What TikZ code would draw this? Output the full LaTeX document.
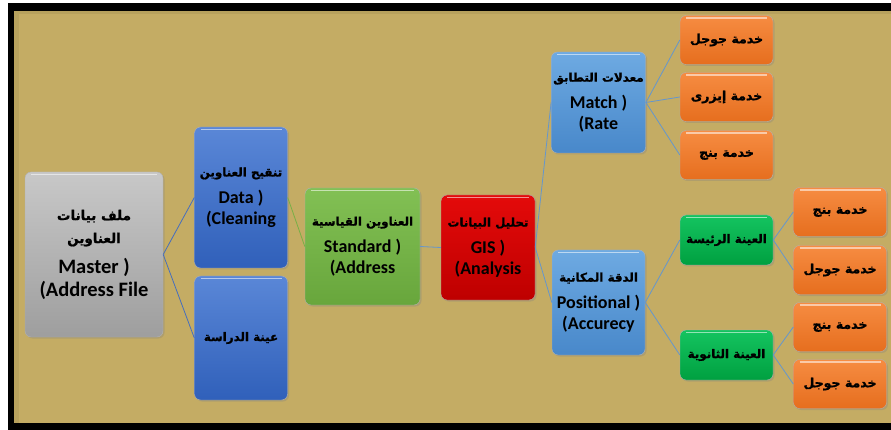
\documentclass[tikz,border=0pt]{standalone}
\usepackage{fontspec}
\setmainfont{Carlito}
\newfontfamily\arabicfont[Script=Arabic,Scale=0.66,BoldFeatures={FakeBold=1.2}]{DejaVu Sans}
\TeXXeTstate=1
\usetikzlibrary{shadows}
\definecolor{tanbg}{RGB}{196,172,100}
\definecolor{greytop}{RGB}{200,200,200}
\definecolor{greybot}{RGB}{158,158,158}
\definecolor{bluetop}{RGB}{90,135,215}
\definecolor{bluebot}{RGB}{48,96,186}
\definecolor{greentop}{RGB}{130,192,84}
\definecolor{greenbot}{RGB}{104,166,60}
\definecolor{redtop}{RGB}{228,10,10}
\definecolor{redbot}{RGB}{190,0,0}
\definecolor{skytop}{RGB}{110,170,226}
\definecolor{skybot}{RGB}{72,136,202}
\definecolor{orangetop}{RGB}{246,140,66}
\definecolor{orangebot}{RGB}{230,110,30}
\definecolor{mintop}{RGB}{20,196,96}
\definecolor{minbot}{RGB}{0,160,64}
\definecolor{linkblue}{RGB}{100,150,205}
\definecolor{linkdark}{RGB}{70,110,190}
\definecolor{linkgreen}{RGB}{120,175,70}
\newcommand{\artxt}[1]{{\arabicfont\bfseries\beginR #1\endR}}

\begin{document}
\begin{tikzpicture}[x=1pt,y=-1pt]
    \tikzstyle{every node}=[font={\bfseries}]
    \tikzstyle{box}=[rounded corners=6pt, align=center, inner sep=2pt,
        draw=white!70!black, line width=0.4pt,
        drop shadow={shadow xshift=1.5pt, shadow yshift=-1.5pt, opacity=0.3},
        path picture={\draw[white, opacity=0.55, line width=1.4pt]
            ([xshift=6pt,yshift=-2.5pt]path picture bounding box.north west) --
            ([xshift=-6pt,yshift=-2.5pt]path picture bounding box.north east);}]
    \tikzstyle{greybox}=[box, top color=greytop, bottom color=greybot,
        minimum width=138pt, minimum height=165pt, font={\bfseries\fontsize{20.5}{23}\selectfont}]
    \tikzstyle{bluebox}=[box, top color=bluetop, bottom color=bluebot,
        minimum width=93pt, font={\bfseries\fontsize{18}{21}\selectfont}]
    \tikzstyle{stdbox}=[box, top color=greentop, bottom color=greenbot,
        minimum width=115pt, minimum height=117pt, font={\bfseries\fontsize{18}{21}\selectfont}]
    \tikzstyle{gisbox}=[box, top color=redtop, bottom color=redbot,
        minimum width=94pt, minimum height=105pt, font={\bfseries\fontsize{18}{21}\selectfont}]
    \tikzstyle{skybox}=[box, top color=skytop, bottom color=skybot,
        minimum width=93pt, font={\bfseries\fontsize{18}{21}\selectfont}]
    \tikzstyle{servicebox}=[box, top color=orangetop, bottom color=orangebot,
        minimum width=93pt, minimum height=49pt, font={\bfseries\fontsize{19}{22}\selectfont}]
    \tikzstyle{samplebox}=[box, top color=mintop, bottom color=minbot,
        minimum width=93pt, minimum height=50pt, font={\bfseries\fontsize{18}{21}\selectfont}]
    \tikzstyle{link}=[linkblue, line width=0.8pt]

    \useasboundingbox (0,0) rectangle (891,430);
    \fill[white] (0,0) rectangle (891,430);
    \fill[black] (8,3.5) rectangle (891,430);
    \fill[tanbg] (14,11) rectangle (891,423);
    \fill[tanbg!88!black, opacity=0.5] (14,11) rectangle (891,14);
    \fill[tanbg!88!black, opacity=0.5] (14,14) rectangle (19,423);

    \node[greybox] (master) at (94,254.5) {\artxt{ملف بيانات}\\\artxt{العناوين}\\[7pt] Master )\\(Address File};
    \node[bluebox, minimum height=141pt] (clean) at (241,197.5) {\artxt{تنقيح العناوين}\\[6pt] Data )\\(Cleaning};
    \node[bluebox, minimum height=124pt] (sample) at (241,338) {\artxt{عينة الدراسة}};
    \node[stdbox] (standard) at (362.5,246.5) {\artxt{العناوين القياسية}\\[6pt] Standard )\\(Address};
    \node[gisbox] (gis) at (488,247.5) {\artxt{تحليل البيانات}\\[6pt] GIS )\\(Analysis};
    \node[skybox, minimum height=101pt] (match) at (598.5,102.5) {\artxt{معدلات التطابق}\\[6pt] Match )\\(Rate};
    \node[skybox, minimum height=105pt] (accuracy) at (598.5,302.5) {\artxt{الدقة المكانية}\\[6pt] Positional )\\(Accurecy};

    \node[servicebox] (google1) at (726.5,40) {\artxt{خدمة جوجل}};
    \node[servicebox] (esri) at (726.5,97) {\artxt{خدمة إيزرى}};
    \node[servicebox] (bing1) at (726.5,155) {\artxt{خدمة بنج}};

    \node[samplebox] (mainsample) at (726.5,240) {\artxt{العينة الرئيسة}};
    \node[samplebox] (subsample) at (726.5,355) {\artxt{العينة الثانوية}};

    \node[servicebox] (bing2) at (840,212) {\artxt{خدمة بنج}};
    \node[servicebox] (google2) at (840,270) {\artxt{خدمة جوجل}};
    \node[servicebox] (bing3) at (840,327) {\artxt{خدمة بنج}};
    \node[servicebox] (google3) at (840,384) {\artxt{خدمة جوجل}};

    \draw[link, linkdark] (master.east) -- (clean.west);
    \draw[link, linkdark] (master.east) -- (sample.west);
    \draw[link, linkgreen] (clean.east) -- (standard.west);
    \draw[link] (standard.east) -- (gis.west);
    \draw[link] (gis.east) -- (match.west);
    \draw[link] (gis.east) -- (accuracy.west);
    \draw[link] (match.east) -- (google1.west);
    \draw[link] (match.east) -- (esri.west);
    \draw[link] (match.east) -- (bing1.west);
    \draw[link] (accuracy.east) -- (mainsample.west);
    \draw[link] (accuracy.east) -- (subsample.west);
    \draw[link] (mainsample.east) -- (bing2.west);
    \draw[link] (mainsample.east) -- (google2.west);
    \draw[link] (subsample.east) -- (bing3.west);
    \draw[link] (subsample.east) -- (google3.west);
\end{tikzpicture}
\end{document}
